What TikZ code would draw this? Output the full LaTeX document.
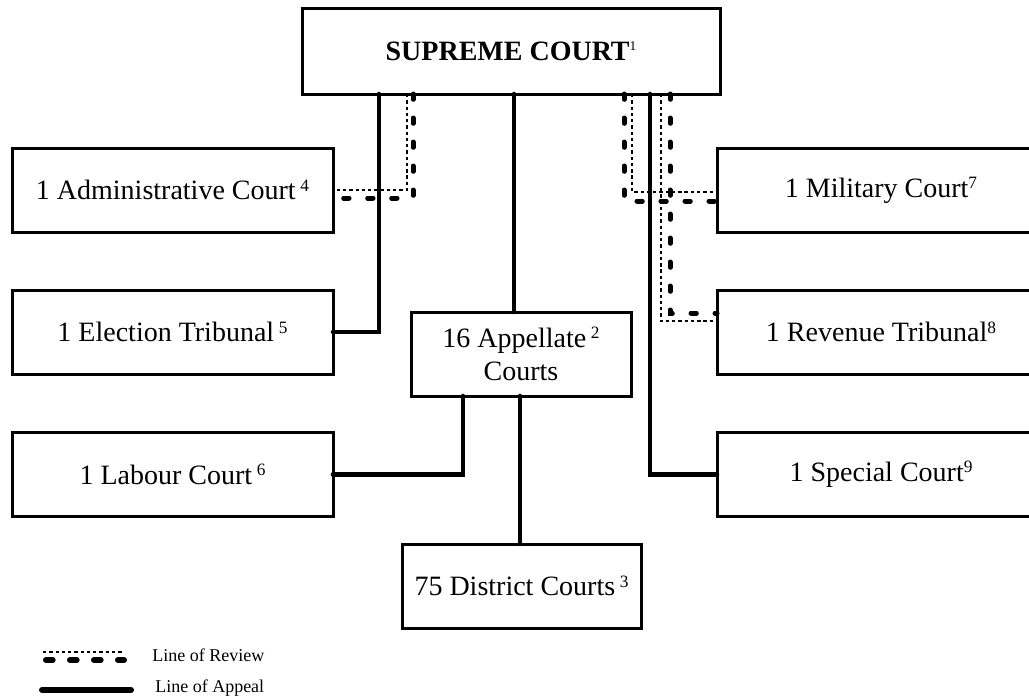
\documentclass[tikz,border=0pt]{standalone}
\usepackage{fontspec}
\setmainfont{Liberation Serif}
% small raised note number after a court name
\newcommand\notenum[1]{\raisebox{6.5pt}{\fontsize{13}{13}\selectfont #1}}
\begin{document}
\begin{tikzpicture}[x=0.75pt,y=-0.75pt,
  court/.style={draw, line width=2.25pt, inner sep=0pt, outer sep=0pt,
    align=center, font=\fontsize{21}{25}\selectfont, minimum height=84*0.75pt},
  appeal/.style={line width=3.4pt, line cap=round, line join=miter},
  reviewthin/.style={line width=1.5pt, dash pattern=on 2.5pt off 2.2pt},
  reviewthick/.style={line width=3.75pt, line cap=round, dash pattern=on 4pt off 14pt},
  legendtext/.style={anchor=west, inner sep=0pt, font=\fontsize{13.5}{14}\selectfont}]
\useasboundingbox (0,0) rectangle (1029,700);
\fill[white] (0,0) rectangle (1029,700);

% courts
\node[court, minimum width=418*0.75pt, minimum height=86*0.75pt] (sc) at (511,51)
  {\textbf{SUPREME COURT}\raisebox{7pt}{\fontsize{10}{10}\selectfont 1}};
\node[court, minimum width=321*0.75pt] (adm) at (172.5,190) {1 Administrative Court\,\notenum{4}};
\node[court, minimum width=321*0.75pt] (ele) at (172.5,332) {1 Election Tribunal\,\notenum{5}};
\node[court, minimum width=321*0.75pt] (lab) at (172.5,474.5) {1 Labour Court\,\notenum{6}};
\node[court, minimum width=328*0.75pt] (mil) at (881,190.5) {1 Military Court\notenum{7}};
\node[court, minimum width=328*0.75pt] (rev) at (881,332) {1 Revenue Tribunal\notenum{8}};
\node[court, minimum width=328*0.75pt] (spc) at (881,474.5) {1 Special Court\notenum{9}};
\node[court, minimum width=220*0.75pt] (app) at (521,354) {16 Appellate\,\notenum{2}\\Courts};
\node[court, minimum width=239*0.75pt] (dis) at (521.5,586) {75 District Courts\,\notenum{3}};

% connector columns
\coordinate (cE) at (379,0);
\coordinate (cA) at (514,0);
\coordinate (cL) at (463,0);
\coordinate (cD) at (520,0);
\coordinate (cS) at (650,0);
\coordinate (rA1) at (407,0);
\coordinate (rA2) at (413,0);
\coordinate (rM1) at (632,0);
\coordinate (rM2) at (624,0);
\coordinate (rR1) at (661,0);
\coordinate (rR2) at (670,0);

% lines of appeal
\draw[appeal] (sc.south -| cE) |- (ele.east);
\draw[appeal] (sc.south -| cA) -- (app.north -| cA);
\draw[appeal] (app.south -| cL) |- (lab.east);
\draw[appeal] (app.south -| cD) -- (dis.north -| cD);
\draw[appeal] (sc.south -| cS) |- (spc.west);

% lines of review
\draw[reviewthin] (sc.south -| rA1) |- (adm.east);
\draw[reviewthick] (sc.south -| rA2) |- ([yshift=-6pt]adm.east);
\draw[reviewthin] (sc.south -| rM1) |- ([yshift=-1.1pt]mil.west);
\draw[reviewthick] (sc.south -| rM2) |- ([yshift=-7.9pt]mil.west);
\draw[reviewthin] (sc.south -| rR1) |- ([yshift=8.25pt]rev.west);
\draw[reviewthick] (sc.south -| rR2) |- ([yshift=14.25pt]rev.west);

% legend
\coordinate (lr0) at (43,652);
\coordinate (lr1) at (123,652);
\coordinate (ld0) at (46,660);
\coordinate (ld1) at (124,660);
\coordinate (la0) at (42,690);
\coordinate (la1) at (131,690);
\draw[reviewthin] (lr0) -- (lr1);
\draw[reviewthick, line width=4.5pt, dash pattern=on 5pt off 13pt] (ld0) -- (ld1);
\draw[appeal, line width=4.5pt] (la0) -- (la1);
\node[legendtext] (lrtxt) at (152,655) {Line of Review};
\node[legendtext] (latxt) at (155,688) {Line of Appeal};
\end{tikzpicture}
\end{document}
